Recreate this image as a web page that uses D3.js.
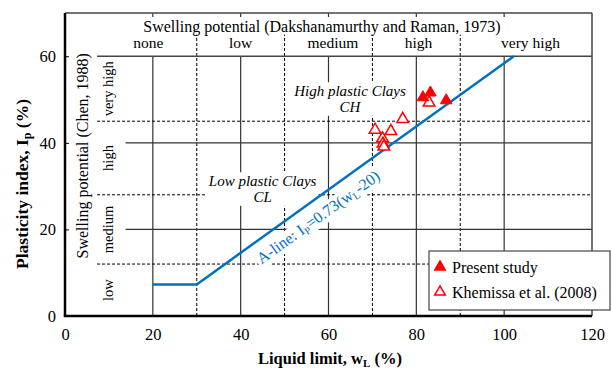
<!DOCTYPE html>
<html>
<head>
<meta charset="utf-8">
<script src="https://cdn.jsdelivr.net/npm/d3@7"></script>
<style>
body { margin: 0; background: #fff; }
svg text { font-family: "Liberation Serif", "Times New Roman", serif; }
</style>
</head>
<body>
<svg id="chart" width="612" height="371"></svg>
<script>
// tick values
const xTicks = [0, 20, 40, 60, 80, 100, 120];
const yTicks = [0, 20, 40, 60];
// grid
const vSolid = [20, 40, 60, 80, 100];
const vDashed = [30, 50, 70, 90];
const hSolid = [20, 40];
const hDashed = [12, 28, 45];
// swelling potential classes
const topLevels = ['none', 'low', 'medium', 'high', 'very high'];
const topLevelX = [19, 40, 61, 80.5, 106];
const sideLevels = ['low', 'medium', 'high', 'very high'];
const sideLevelY = [6, 20, 36.5, 52.5];
// A-line
const aLineWL = [20, 30, 102.2];
const aLineIp = [7.3, 7.3, 60];
// data
const presentWL = [81.5, 83.2, 86.8];
const presentIp = [50.5, 51.6, 49.8];
const khemWL = [70.6, 74.2, 76.9, 72.3, 72.4, 72.6, 82.9];
const khemIp = [43.0, 42.7, 45.5, 41.0, 39.8, 39.1, 49.3];

const red = '#ff0000';
const blue = '#0070c0';

const svg = d3.select('#chart');
const x = d3.scaleLinear().domain([0, 120]).range([65, 592]);
const y = d3.scaleLinear().domain([0, 70]).range([316, 13]);

// label with white box behind it
function boxed(g, pad) {
  const b = g.node().getBBox();
  g.insert('rect', ':first-child')
    .attr('x', b.x - pad).attr('y', b.y - pad / 2)
    .attr('width', b.width + 2 * pad).attr('height', b.height + pad)
    .attr('fill', '#fff');
}

const grid = svg.append('g');
grid.selectAll('.vs').data(vSolid).enter().append('line')
  .attr('x1', d => x(d)).attr('x2', d => x(d))
  .attr('y1', y(0)).attr('y2', y(60))
  .attr('stroke', '#333').attr('stroke-width', 1.2);
grid.selectAll('.vt').data(vSolid).enter().append('line')
  .attr('x1', d => x(d)).attr('x2', d => x(d))
  .attr('y1', y(70)).attr('y2', y(70) + 4)
  .attr('stroke', '#333').attr('stroke-width', 1.2);
grid.selectAll('.vd').data(vDashed).enter().append('line')
  .attr('x1', d => x(d)).attr('x2', d => x(d))
  .attr('y1', y(0)).attr('y2', y(65))
  .attr('stroke', '#000').attr('stroke-width', 1).attr('stroke-dasharray', '3,2');
grid.selectAll('.hs').data(hSolid).enter().append('line')
  .attr('x1', x(13.8)).attr('x2', x(120))
  .attr('y1', d => y(d)).attr('y2', d => y(d))
  .attr('stroke', '#333').attr('stroke-width', 1.2);
grid.append('line')
  .attr('x1', x(7.3)).attr('x2', x(120))
  .attr('y1', y(60)).attr('y2', y(60))
  .attr('stroke', '#444').attr('stroke-width', 1.5);
grid.selectAll('.hd').data(hDashed).enter().append('line')
  .attr('x1', x(7.3)).attr('x2', x(120))
  .attr('y1', d => y(d)).attr('y2', d => y(d))
  .attr('stroke', '#000').attr('stroke-width', 1).attr('stroke-dasharray', '3,2');

// top band
svg.append('text')
  .attr('x', x(58.5)).attr('y', 26).attr('dy', '0.35em')
  .attr('text-anchor', 'middle').attr('font-size', 16)
  .text('Swelling potential  (Dakshanamurthy and Raman, 1973)');
svg.selectAll('.tl').data(topLevels).enter().append('text')
  .attr('x', (d, i) => x(topLevelX[i])).attr('y', 43).attr('dy', '0.35em')
  .attr('text-anchor', 'middle').attr('font-size', 15.5)
  .text(d => d);

// side band
svg.append('text')
  .attr('transform', `translate(82,${y(37)}) rotate(-90)`)
  .attr('dy', '0.35em').attr('text-anchor', 'middle').attr('font-size', 16)
  .text('Swelling potential (Chen, 1988)');
sideLevels.forEach((s, i) => {
  const g = svg.append('g');
  g.append('text')
    .attr('transform', `translate(108,${y(sideLevelY[i])}) rotate(-90)`)
    .attr('dy', '0.35em').attr('text-anchor', 'middle').attr('font-size', 14.5)
    .text(s);
  boxed(g, 2);
});

// region labels
function regionLabel(cx, cy, lines) {
  const g = svg.append('g');
  lines.forEach((t, i) => {
    g.append('text')
      .attr('x', x(cx)).attr('y', cy + i * 15.5).attr('dy', '0.35em')
      .attr('text-anchor', 'middle').attr('font-size', 15)
      .attr('font-style', 'italic').text(t);
  });
  boxed(g, 2);
}
regionLabel(64.9, 91, ['High plastic Clays', 'CH']);
regionLabel(45, 181, ['Low plastic Clays', 'CL']);

// A-line
const line = d3.line().x(d => x(d[0])).y(d => y(d[1]));
svg.append('path')
  .datum(d3.zip(aLineWL, aLineIp))
  .attr('d', line)
  .attr('fill', 'none').attr('stroke', blue).attr('stroke-width', 2.5);

const ang = Math.atan2(y(60) - y(7.3), x(102.2) - x(30)) * 180 / Math.PI;
const al = svg.append('g');
const alt = al.append('text')
  .attr('transform', `translate(318,217) rotate(${ang})`)
  .attr('dy', '0.35em').attr('text-anchor', 'middle')
  .attr('font-size', 16).attr('fill', blue);
alt.append('tspan').text('A-line: I');
alt.append('tspan').attr('font-size', 10.5).attr('baseline-shift', '-3').text('P');
alt.append('tspan').text('=0.73(w');
alt.append('tspan').attr('font-size', 10.5).attr('baseline-shift', '-3').text('L');
alt.append('tspan').text('-20)');
const ab = alt.node().getBBox();
al.insert('rect', ':first-child')
  .attr('transform', `translate(318,217) rotate(${ang})`)
  .attr('x', ab.x - 2).attr('y', ab.y).attr('width', ab.width + 4).attr('height', ab.height)
  .attr('fill', '#fff');

// data points
const tri = d3.symbol().type(d3.symbolTriangle).size(58);
svg.selectAll('.kh').data(d3.zip(khemWL, khemIp)).enter().append('path')
  .attr('d', tri)
  .attr('transform', d => `translate(${x(d[0])},${y(d[1])})`)
  .attr('fill', '#fff').attr('stroke', red).attr('stroke-width', 1.5);
svg.selectAll('.ps').data(d3.zip(presentWL, presentIp)).enter().append('path')
  .attr('d', tri)
  .attr('transform', d => `translate(${x(d[0])},${y(d[1])})`)
  .attr('fill', red).attr('stroke', red).attr('stroke-width', 1);

// frame
svg.append('line').attr('x1', x(0)).attr('x2', x(120)).attr('y1', y(70)).attr('y2', y(70))
  .attr('stroke', '#444').attr('stroke-width', 1.5);
svg.append('line').attr('x1', x(120)).attr('x2', x(120)).attr('y1', y(70)).attr('y2', y(0))
  .attr('stroke', '#444').attr('stroke-width', 1.5);
svg.append('line').attr('x1', x(0)).attr('x2', x(0)).attr('y1', y(70)).attr('y2', y(0))
  .attr('stroke', '#000').attr('stroke-width', 2.5);
svg.append('line').attr('x1', x(0) - 1.25).attr('x2', x(120)).attr('y1', y(0)).attr('y2', y(0))
  .attr('stroke', '#000').attr('stroke-width', 2.5);

// axes
const xAxis = d3.axisBottom(x).tickValues(xTicks).tickSize(0).tickPadding(12);
const yAxis = d3.axisLeft(y).tickValues(yTicks).tickSize(0).tickPadding(9);
const gx = svg.append('g').attr('transform', `translate(0,${y(0)})`).call(xAxis);
const gy = svg.append('g').attr('transform', `translate(${x(0)},0)`).call(yAxis);
[gx, gy].forEach(g => {
  g.select('.domain').remove();
  g.selectAll('text').attr('font-size', 16.5).attr('fill', '#000');
});
gy.selectAll('.tick').append('line')
  .attr('x1', 0).attr('x2', 4).attr('stroke', '#000').attr('stroke-width', 1);

// axis titles
const xt = svg.append('text')
  .attr('x', 330).attr('y', 358).attr('dy', '0.35em')
  .attr('text-anchor', 'middle').attr('font-size', 16.5).attr('font-weight', 'bold');
xt.append('tspan').text('Liquid limit, w');
xt.append('tspan').attr('font-size', 11).attr('baseline-shift', '-3').text('L');
xt.append('tspan').text(' (%)');

const yt = svg.append('text')
  .attr('transform', `translate(22,${y(30.5)}) rotate(-90)`)
  .attr('dy', '0.35em').attr('text-anchor', 'middle')
  .attr('font-size', 17.5).attr('font-weight', 'bold');
yt.append('tspan').text('Plasticity index, I');
yt.append('tspan').attr('font-size', 12).attr('baseline-shift', '-3').text('p');
yt.append('tspan').text(' (%)');

// legend
const lg = svg.append('g').attr('transform', 'translate(429,251)');
lg.append('rect').attr('x', 0).attr('y', 0).attr('width', 181).attr('height', 59)
  .attr('fill', '#fff').attr('stroke', '#444').attr('stroke-width', 1.2);
const legItems = ['Present study', 'Khemissa et al. (2008)'];
const lsym = d3.symbol().type(d3.symbolTriangle).size(48);
legItems.forEach((t, i) => {
  lg.append('path').attr('d', lsym)
    .attr('transform', `translate(11,${16 + i * 25})`)
    .attr('fill', i === 0 ? red : '#fff').attr('stroke', red).attr('stroke-width', 1.5);
  lg.append('text').attr('x', 23).attr('y', 16 + i * 25).attr('dy', '0.35em')
    .attr('font-size', 16).text(t);
});
</script>
</body>
</html>
